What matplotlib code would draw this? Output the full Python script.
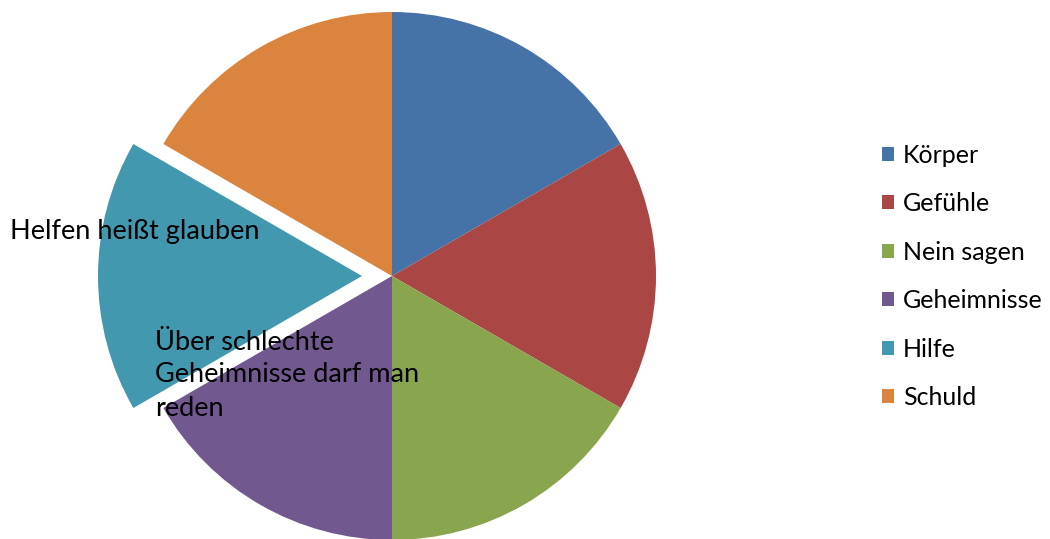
import matplotlib
matplotlib.use("Agg")
import matplotlib.pyplot as plt

categories = ["Körper", "Gefühle", "Nein sagen", "Geheimnisse", "Hilfe", "Schuld"]
values = [1, 1, 1, 1, 1, 1]
colors = ["#4572A7", "#AA4643", "#89A54E", "#71588F", "#4198AF", "#DB843D"]
labels = ["", "", "", "Über schlechte\nGeheimnisse darf man\nreden", "Helfen heißt glauben", ""]

plt.rcParams['font.family'] = ['Lato', 'DejaVu Sans']

W, H = 1050, 539
fig = plt.figure(figsize=(W / 100, H / 100), dpi=100)
ax = fig.add_axes([0, 0, 1, 1])

R = 264
cx, cy = 392, H - 276
explode = [0, 0, 0, 0, 30, 0]
wedges, _ = ax.pie(values, colors=colors, startangle=90, counterclock=False,
                   radius=R, center=(cx, cy), explode=explode,
                   wedgeprops=dict(linewidth=0), frame=True)
ax.set_xlim(0, W)
ax.set_ylim(0, H)
ax.set_aspect('equal')
ax.axis('off')

# data labels
ax.text(10, H - 232, labels[4], fontsize=19.5, ha='left', va='center', color='black')
ax.text(155, H - 375, labels[3], fontsize=19.5, ha='left', va='center', color='black',
        linespacing=1.4)

leg = ax.legend(wedges, categories, loc='center left', bbox_to_anchor=(882 / W, 1 - 276.5 / H),
                bbox_transform=fig.transFigure, frameon=False, fontsize=18,
                borderpad=0, borderaxespad=0,
                handlelength=0.48, handleheight=0.48, handletextpad=0.36,
                labelspacing=1.02)

fig.savefig("out.png", dpi=100)
